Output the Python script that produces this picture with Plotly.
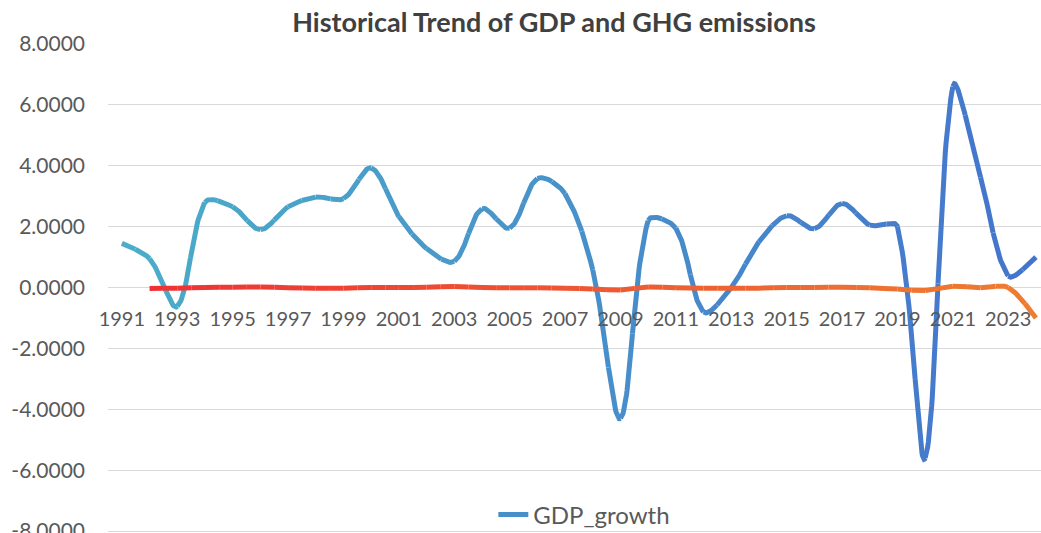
import numpy as np
import plotly.graph_objects as go

# ---- data ----
years = list(range(1991, 2025))
gdp_growth = [1.45, 0.95, -0.62, 2.80, 2.65, 1.90, 2.65, 2.97, 2.92, 3.93,
              2.33, 1.28, 0.86, 2.59, 1.95, 3.58, 3.08, 0.58, -4.30, 2.20,
              1.95, -0.80, 0.00, 1.50, 2.36, 1.93, 2.76, 2.05, 2.00, -5.60,
              6.60, 3.62, 0.38, 1.00]
ghg_years = list(range(1992, 2025))
ghg_growth = [-0.03, -0.02, 0.00, 0.01, 0.02, -0.01, -0.02, -0.02, 0.00, 0.00,
              0.01, 0.03, 0.00, -0.01, -0.01, -0.02, -0.05, -0.08, 0.02, -0.01,
              -0.02, -0.02, -0.02, 0.00, 0.00, 0.01, -0.01, -0.05, -0.10, 0.04,
              -0.01, 0.00, -1.00]
x_tick_years = list(range(1991, 2024, 2))
x_tick_text = [str(y) for y in x_tick_years]
y_tick_vals = [-8, -6, -4, -2, 0, 2, 4, 6, 8]
y_tick_text = ["-8.0000", "-6.0000", "-4.0000", "-2.0000", "0.0000",
               "2.0000", "4.0000", "6.0000", "8.0000"]

GDP_COLORS = ((75, 173, 200), (68, 116, 204))
GHG_COLORS = ((238, 50, 52), (237, 126, 49))
FONT = "Lato"
LABEL_COLOR = "#595959"

W, H = 1041, 533
M_L, M_R, M_T, M_B = 108, 0, 44, 0
PX_PER_YEAR = 27.7
PX_PER_UNIT = 30.44
X_RANGE = [1990.5, 1990.5 + (W - M_L - M_R) / PX_PER_YEAR]
Y_RANGE = [8 - (H - M_T - M_B) / PX_PER_UNIT, 8]


def smooth_segments(xs, ys, n=40):
    """Excel-style smoothed line: bezier pieces whose tangent lengths
    are proportional to the neighbouring chord lengths (in screen space)."""
    P = np.column_stack([np.asarray(xs, float) * PX_PER_YEAR,
                         np.asarray(ys, float) * PX_PER_UNIT])
    m = len(P)
    cin = np.zeros_like(P)
    cout = np.zeros_like(P)
    for i in range(m):
        prev = P[i - 1] if i > 0 else P[i]
        nxt = P[i + 1] if i < m - 1 else P[i]
        T = nxt - prev
        d0 = np.linalg.norm(P[i] - prev)
        d1 = np.linalg.norm(nxt - P[i])
        if i == 0:
            cout[i] = P[i] + T / 6.0
        elif i == m - 1:
            cin[i] = P[i] - T / 6.0
        else:
            s = d0 + d1
            cin[i] = P[i] - T * (d0 / s) / 3.0
            cout[i] = P[i] + T * (d1 / s) / 3.0
    segs = []
    t = np.linspace(0, 1, n)[:, None]
    for i in range(m - 1):
        A, B, C, D = P[i], cout[i], cin[i + 1], P[i + 1]
        pts = (1 - t) ** 3 * A + 3 * (1 - t) ** 2 * t * B + 3 * (1 - t) * t ** 2 * C + t ** 3 * D
        pts = pts / np.array([PX_PER_YEAR, PX_PER_UNIT])
        segs.append(pts)
    return segs


def mix(c0, c1, f):
    return "rgb(%d,%d,%d)" % tuple(round(a + (b - a) * f) for a, b in zip(c0, c1))


def gradient_traces(xs, ys, cols, width=5):
    traces = []
    x0, x1 = xs[0], xs[-1]
    for pts in smooth_segments(xs, ys):
        half = len(pts) // 2
        for part in (pts[: half + 1], pts[half:]):
            f = (part[:, 0].mean() - x0) / (x1 - x0)
            traces.append(go.Scatter(
                x=part[:, 0], y=part[:, 1], mode="lines",
                line=dict(color=mix(cols[0], cols[1], f), width=width),
                showlegend=False, hoverinfo="skip"))
    return traces


fig = go.Figure()
for tr in gradient_traces(years, gdp_growth, GDP_COLORS):
    fig.add_trace(tr)
for tr in gradient_traces(ghg_years, ghg_growth, GHG_COLORS):
    fig.add_trace(tr)

# legend entry
fig.add_trace(go.Scatter(x=[None], y=[None], mode="lines", name="GDP_growth",
                         line=dict(color=mix(GDP_COLORS[0], GDP_COLORS[1], 0.5), width=5)))

fig.update_layout(
    width=W, height=H,
    margin=dict(l=M_L, r=M_R, t=M_T, b=M_B, autoexpand=False),
    paper_bgcolor="white", plot_bgcolor="white",
    font=dict(family=FONT, color=LABEL_COLOR),
    title=dict(text="<b>Historical Trend of GDP and GHG emissions</b>",
               x=554 / W, xanchor="center", y=1 - 23 / H, yanchor="middle",
               font=dict(family=FONT, size=27, color="#404040")),
    showlegend=True,
    legend=dict(orientation="h", x=0.413, xanchor="left", y=(H - M_B - 515) / (H - M_T - M_B),
                yanchor="middle", bgcolor="rgba(0,0,0,0)",
                font=dict(size=24, color=LABEL_COLOR)),
    xaxis=dict(range=X_RANGE, anchor="free", position=(0 - Y_RANGE[0]) / (Y_RANGE[1] - Y_RANGE[0]),
               tickmode="array", tickvals=x_tick_years, ticktext=x_tick_text,
               showgrid=False, zeroline=False, showline=False, ticks="",
               ticklabelstandoff=17, automargin=False, ticklabeloverflow="allow",
               tickfont=dict(size=20, color=LABEL_COLOR)),
    yaxis=dict(range=Y_RANGE, tickmode="array", tickvals=y_tick_vals, ticktext=y_tick_text,
               showgrid=True, gridcolor="#D9D9D9", gridwidth=1.3, zeroline=False,
               showline=False, ticks="", ticklabelstandoff=22, automargin=False,
               ticklabeloverflow="allow",
               tickfont=dict(size=21, color=LABEL_COLOR)),
)

fig.write_html("out.html")
